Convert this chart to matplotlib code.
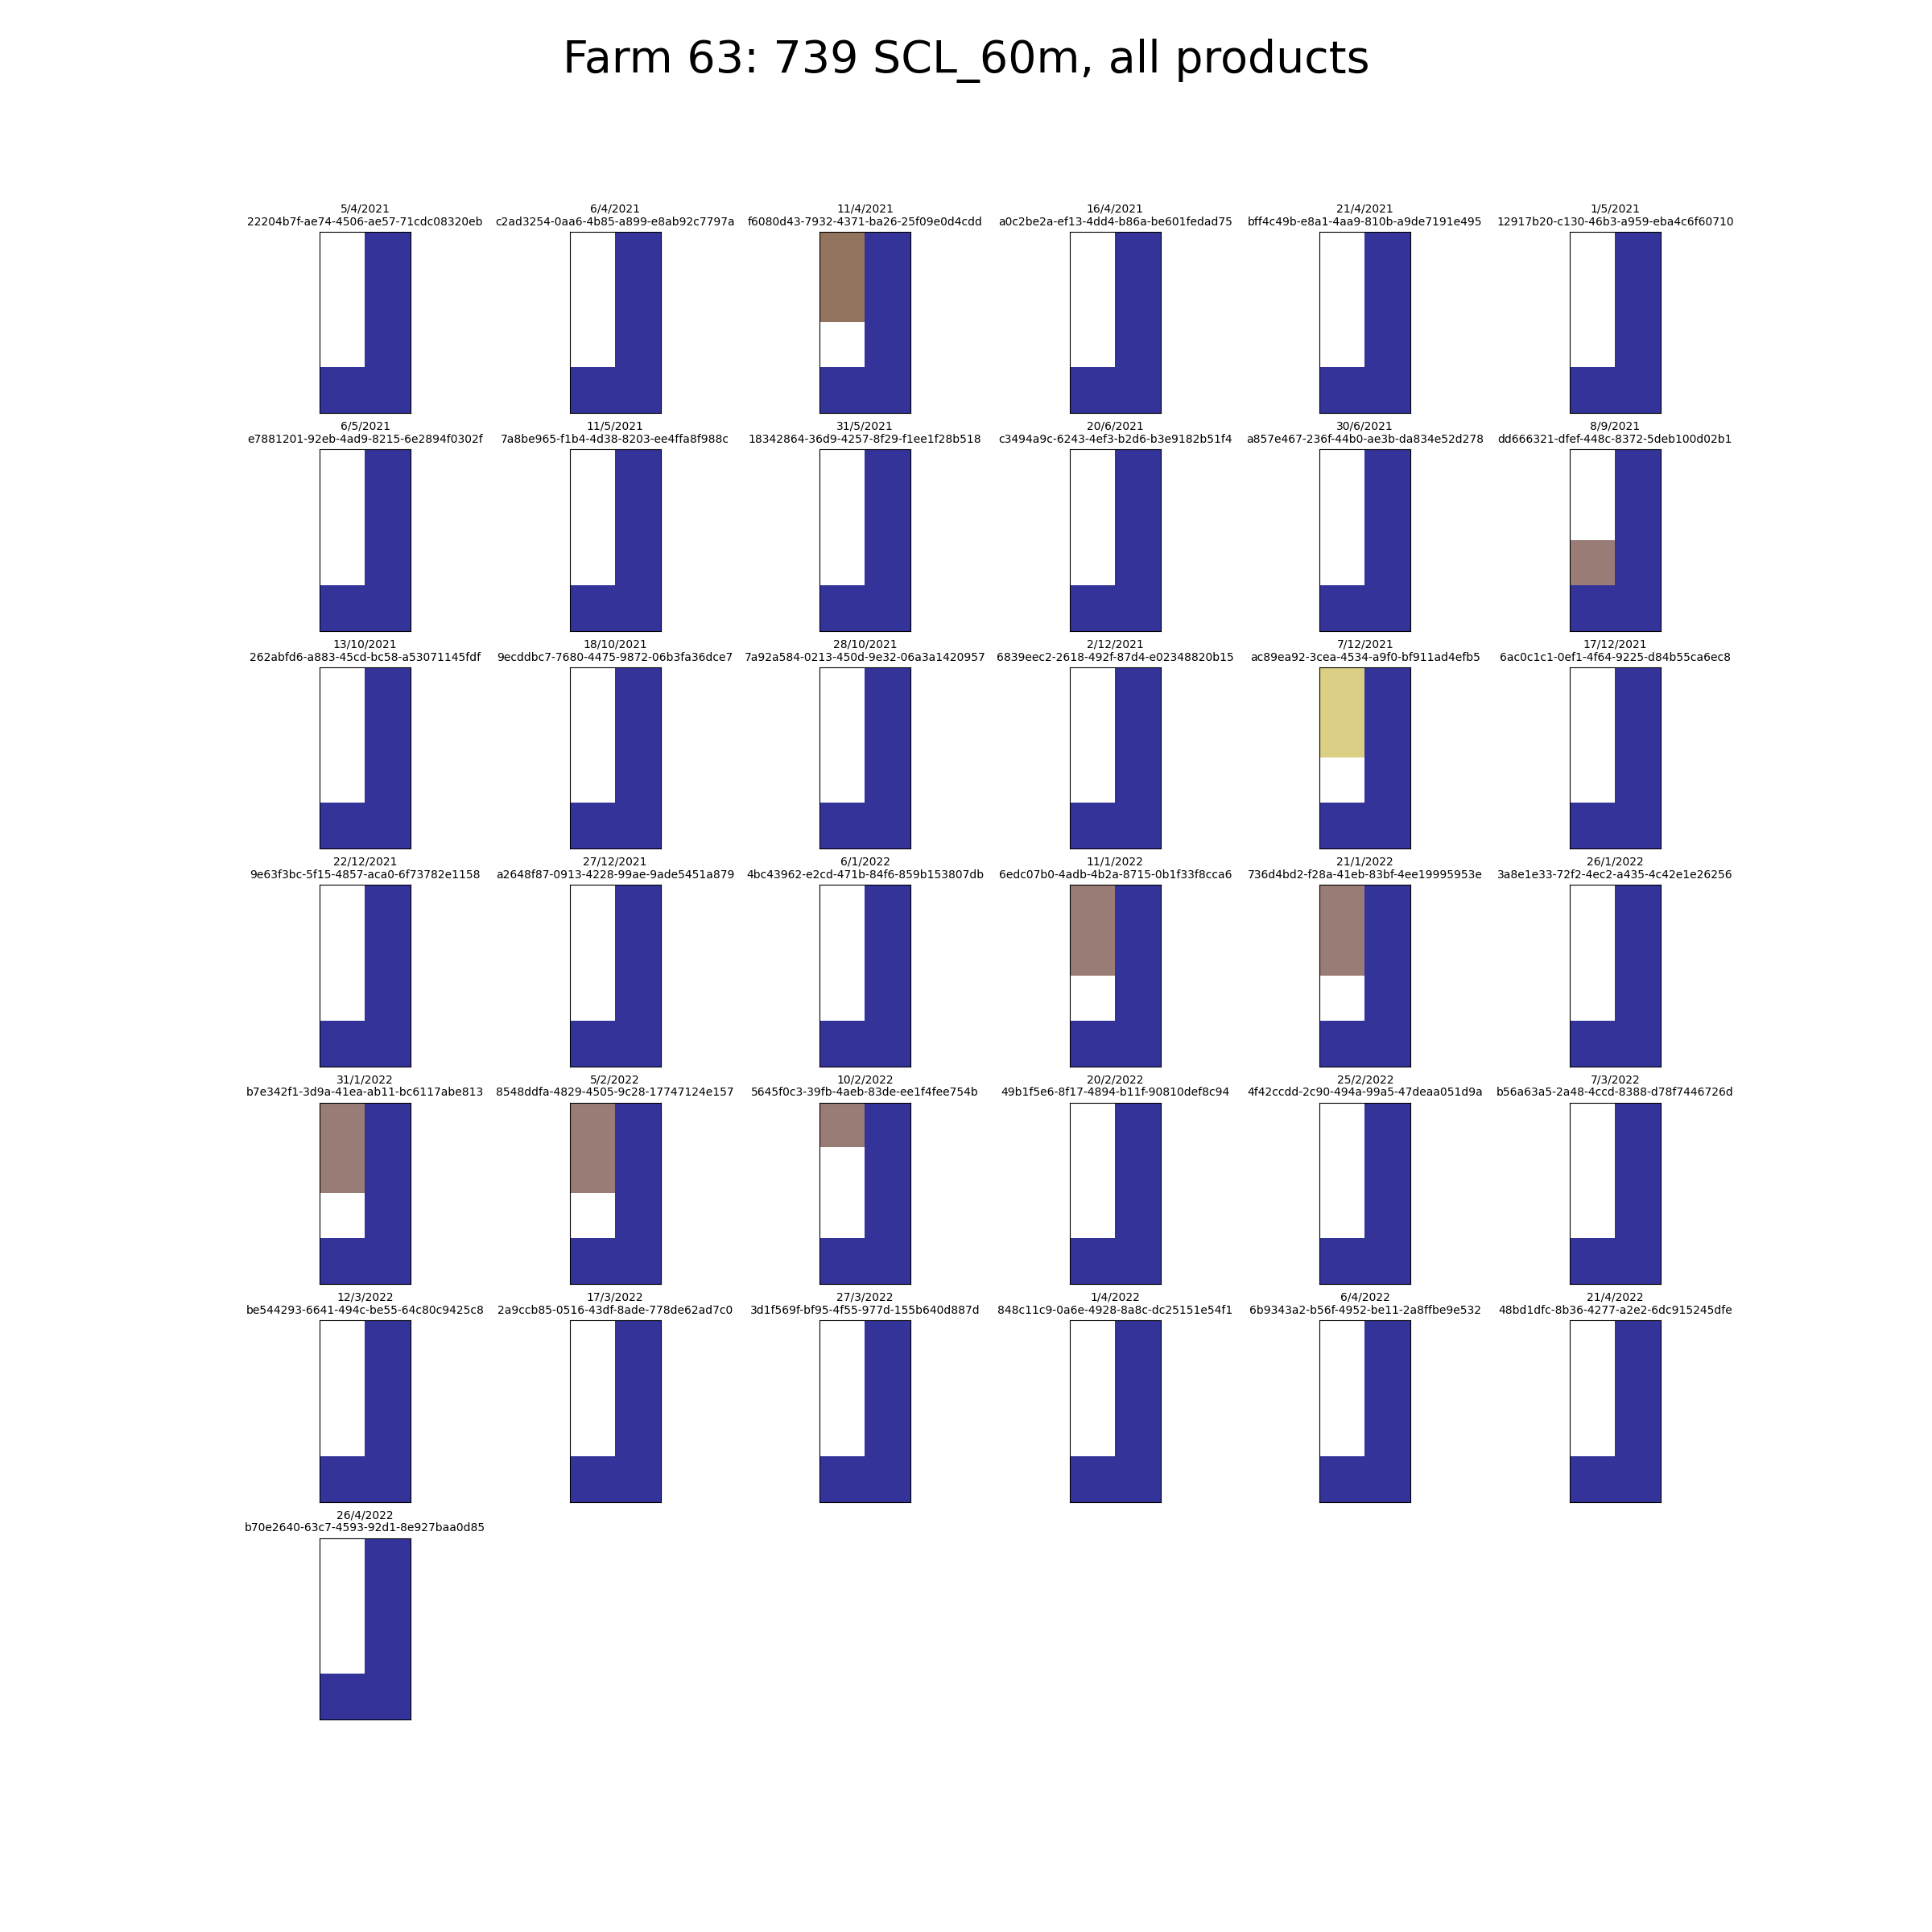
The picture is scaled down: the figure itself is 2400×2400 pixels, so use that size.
import numpy as np
import matplotlib
matplotlib.use("Agg")
import matplotlib.pyplot as plt

title = "Farm 63: 739 SCL_60m, all products"

dates = [
    "5/4/2021", "6/4/2021", "11/4/2021", "16/4/2021", "21/4/2021", "1/5/2021",
    "6/5/2021", "11/5/2021", "31/5/2021", "20/6/2021", "30/6/2021", "8/9/2021",
    "13/10/2021", "18/10/2021", "28/10/2021", "2/12/2021", "7/12/2021", "17/12/2021",
    "22/12/2021", "27/12/2021", "6/1/2022", "11/1/2022", "21/1/2022", "26/1/2022",
    "31/1/2022", "5/2/2022", "10/2/2022", "20/2/2022", "25/2/2022", "7/3/2022",
    "12/3/2022", "17/3/2022", "27/3/2022", "1/4/2022", "6/4/2022", "21/4/2022",
    "26/4/2022",
]

product_ids = [
    "22204b7f-ae74-4506-ae57-71cdc08320eb", "c2ad3254-0aa6-4b85-a899-e8ab92c7797a",
    "f6080d43-7932-4371-ba26-25f09e0d4cdd", "a0c2be2a-ef13-4dd4-b86a-be601fedad75",
    "bff4c49b-e8a1-4aa9-810b-a9de7191e495", "12917b20-c130-46b3-a959-eba4c6f60710",
    "e7881201-92eb-4ad9-8215-6e2894f0302f", "7a8be965-f1b4-4d38-8203-ee4ffa8f988c",
    "18342864-36d9-4257-8f29-f1ee1f28b518", "c3494a9c-6243-4ef3-b2d6-b3e9182b51f4",
    "a857e467-236f-44b0-ae3b-da834e52d278", "dd666321-dfef-448c-8372-5deb100d02b1",
    "262abfd6-a883-45cd-bc58-a53071145fdf", "9ecddbc7-7680-4475-9872-06b3fa36dce7",
    "7a92a584-0213-450d-9e32-06a3a1420957", "6839eec2-2618-492f-87d4-e02348820b15",
    "ac89ea92-3cea-4534-a9f0-bf911ad4efb5", "6ac0c1c1-0ef1-4f64-9225-d84b55ca6ec8",
    "9e63f3bc-5f15-4857-aca0-6f73782e1158", "a2648f87-0913-4228-99ae-9ade5451a879",
    "4bc43962-e2cd-471b-84f6-859b153807db", "6edc07b0-4adb-4b2a-8715-0b1f33f8cca6",
    "736d4bd2-f28a-41eb-83bf-4ee19995953e", "3a8e1e33-72f2-4ec2-a435-4c42e1e26256",
    "b7e342f1-3d9a-41ea-ab11-bc6117abe813", "8548ddfa-4829-4505-9c28-17747124e157",
    "5645f0c3-39fb-4aeb-83de-ee1f4fee754b", "49b1f5e6-8f17-4894-b11f-90810def8c94",
    "4f42ccdd-2c90-494a-99a5-47deaa051d9a", "b56a63a5-2a48-4ccd-8388-d78f7446726d",
    "be544293-6641-494c-be55-64c80c9425c8", "2a9ccb85-0516-43df-8ade-778de62ad7c0",
    "3d1f569f-bf95-4f55-977d-155b640d887d", "848c11c9-0a6e-4928-8a8c-dc25151e54f1",
    "6b9343a2-b56f-4952-be11-2a8ffbe9e532", "48bd1dfc-8b36-4277-a2e2-6dc915245dfe",
    "b70e2640-63c7-4593-92d1-8e927baa0d85",
]

# SCL values of the three field pixels (left column, top to bottom) per product;
# all other pixels of the 4x2 tile are outside the field (value 0).
field_scl = [
    [9, 9, 9], [9, 9, 9], [5, 5, 7], [9, 9, 9], [9, 9, 9], [9, 9, 9],
    [9, 9, 9], [9, 9, 9], [9, 9, 9], [9, 9, 9], [9, 9, 9], [10, 10, 8],
    [9, 9, 9], [9, 9, 9], [9, 9, 9], [9, 9, 9], [4, 4, 7], [9, 9, 9],
    [9, 9, 9], [9, 9, 9], [9, 9, 9], [8, 8, 10], [8, 8, 10], [9, 9, 9],
    [8, 8, 10], [8, 8, 10], [8, 10, 10], [9, 9, 9], [9, 9, 9], [9, 9, 9],
    [9, 9, 9], [9, 9, 9], [9, 9, 9], [9, 9, 9], [9, 9, 9], [9, 9, 9],
    [9, 9, 9],
]
outside_value = 0

n_rows, n_cols = 7, 6
fig, axes = plt.subplots(n_rows, n_cols, figsize=(24, 24))
fig.subplots_adjust(wspace=0.01)
fig.suptitle(title, fontsize=40)

for i, ax in enumerate(axes.flat):
    if i >= len(dates):
        ax.axis("off")
        continue
    grid = np.full((4, 2), outside_value, dtype=float)
    grid[0:3, 0] = field_scl[i]
    ax.imshow(grid, cmap="terrain", interpolation="nearest")
    ax.set_xticks([])
    ax.set_yticks([])
    ax.set_title(f"{dates[i]}\n{product_ids[i]}", fontsize=10)

fig.savefig("out.png", dpi=100)
